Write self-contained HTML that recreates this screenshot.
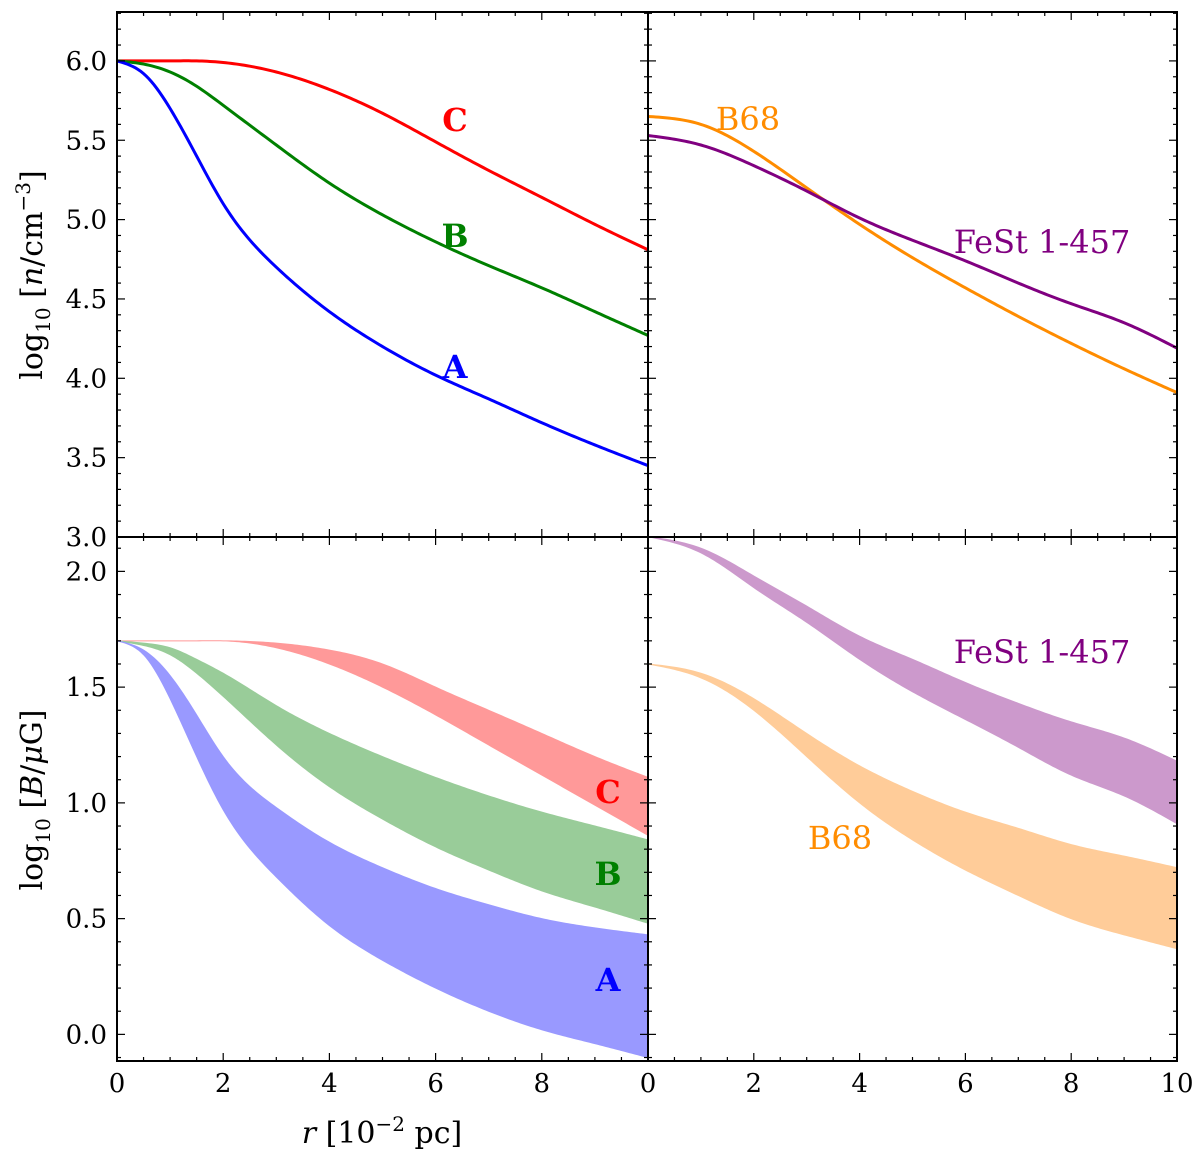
<!DOCTYPE html>
<html><head><meta charset="utf-8"><style>
body{margin:0;background:#fff}
svg text{font-family:"DejaVu Serif","Liberation Serif",serif}
</style></head><body>
<svg id="fig" width="1200" height="1159" viewBox="0 0 1200 1159" xmlns="http://www.w3.org/2000/svg"></svg>
<script>
const rGrid=[0,0.5,1,1.5,2,3,4,5,6,7,8,9,10];
const nC=[6.0,6.0,6.0,6.0,5.99,5.93,5.82,5.67,5.49,5.31,5.14,4.97,4.81];
const nB=[6.0,5.98,5.93,5.84,5.72,5.47,5.23,5.03,4.86,4.71,4.57,4.42,4.27];
const nA=[6.0,5.92,5.7,5.4,5.1,4.7,4.42,4.2,4.02,3.87,3.72,3.58,3.45];
const rGrid2=[0,1,2,3,4,5,6,7,8,9,10];
const nB68=[5.65,5.6,5.43,5.2,4.97,4.76,4.57,4.39,4.22,4.06,3.91];
const nFeSt=[5.53,5.47,5.34,5.18,5.01,4.87,4.74,4.6,4.47,4.35,4.19];
const bCup=[1.7,1.7,1.7,1.7,1.7,1.69,1.66,1.6,1.5,1.4,1.3,1.2,1.11];
const bClo=[1.7,1.7,1.7,1.7,1.7,1.67,1.6,1.5,1.38,1.25,1.12,0.99,0.86];
const bBup=[1.7,1.69,1.67,1.62,1.56,1.42,1.3,1.2,1.11,1.03,0.96,0.9,0.84];
const bBlo=[1.7,1.68,1.64,1.56,1.46,1.25,1.07,0.93,0.81,0.71,0.62,0.55,0.48];
const bAup=[1.7,1.66,1.55,1.38,1.2,0.98,0.83,0.72,0.63,0.56,0.5,0.46,0.43];
const bAlo=[1.7,1.64,1.45,1.2,0.97,0.68,0.47,0.32,0.2,0.1,0.02,-0.04,-0.1];
const bFup=[2.15,2.1,1.98,1.85,1.72,1.62,1.52,1.43,1.35,1.28,1.18];
const bFlo=[2.15,2.08,1.93,1.78,1.62,1.48,1.36,1.24,1.12,1.03,0.91];
const bB68up=[1.6,1.56,1.45,1.3,1.16,1.05,0.96,0.89,0.82,0.77,0.72];
const bB68lo=[1.6,1.54,1.4,1.2,1.0,0.84,0.71,0.6,0.5,0.43,0.37];
const xTicks=[0,2,4,6,8,10];
const xTickLabelsL=["0","2","4","6","8","0"];
const xTickLabelsR=["0","2","4","6","8","10"];
const yTicksTop=[3.0,3.5,4.0,4.5,5.0,5.5,6.0];
const yTicksBot=[0.0,0.5,1.0,1.5,2.0];

const NS="http://www.w3.org/2000/svg";
const svg=document.getElementById('fig');
function el(tag,attrs,parent){const e=document.createElementNS(NS,tag);for(const k in attrs)e.setAttribute(k,attrs[k]);(parent||svg).appendChild(e);return e;}
const X0L=117,X1L=648,X0R=648,X1R=1177;
const TOP={y0:12,y1:537,min:3.0,max:3.0+525/158.7};
const BOT={y0:537,y1:1061,min:-0.115,max:-0.115+524/231.5};
function sx(x0,x1){return v=>x0+(x1-x0)*v/10;}
function sy(p){return v=>p.y1-(p.y1-p.y0)*(v-p.min)/(p.max-p.min);}
// natural cubic spline
function interp(xs,ys){
 const n=xs.length,h=[],a=[],b=[],c=[],r=[];
 for(let i=0;i<n-1;i++)h.push(xs[i+1]-xs[i]);
 const M=new Array(n).fill(0);
 // tridiagonal for M[1..n-2]
 const sub=[],dia=[],sup=[],rhs=[];
 for(let i=1;i<n-1;i++){sub.push(h[i-1]);dia.push(2*(h[i-1]+h[i]));sup.push(h[i]);
  rhs.push(6*((ys[i+1]-ys[i])/h[i]-(ys[i]-ys[i-1])/h[i-1]));}
 const m=dia.length;
 for(let i=1;i<m;i++){const w=sub[i]/dia[i-1];dia[i]-=w*sup[i-1];rhs[i]-=w*rhs[i-1];}
 const sol=new Array(m);sol[m-1]=rhs[m-1]/dia[m-1];
 for(let i=m-2;i>=0;i--)sol[i]=(rhs[i]-sup[i]*sol[i+1])/dia[i];
 for(let i=0;i<m;i++)M[i+1]=sol[i];
 return x=>{let i=0;while(i<n-2&&x>xs[i+1])i++;const hi=h[i],A=(xs[i+1]-x)/hi,B=(x-xs[i])/hi;
  return A*ys[i]+B*ys[i+1]+((A*A*A-A)*M[i]+(B*B*B-B)*M[i+1])*hi*hi/6;};
}
function sample(xs,ys,fx,fy){const f=interp(xs,ys),P=[];for(let k=0;k<=200;k++){const r=k*0.05;P.push([fx(r).toFixed(2),fy(f(r)).toFixed(2)]);}return P;}
function line(xs,ys,fx,fy,color,name,clip){const P=sample(xs,ys,fx,fy);
 const p=el('path',{d:'M'+P.map(q=>q.join(',')).join(' L'),fill:'none',stroke:color,'stroke-width':3,'clip-path':`url(#${clip})`});
 
 }
function band(xs,up,lo,fx,fy,color,name,clip){const U=sample(xs,up,fx,fy),L=sample(xs,lo,fx,fy).reverse();
 const p=el('path',{d:'M'+U.concat(L).map(q=>q.join(',')).join(' L')+' Z',fill:color,stroke:color,'stroke-width':1,'clip-path':`url(#${clip})`});
 
 }
function label(x,y,t,color,bold,name){const e=el('text',{x:x,y:y,fill:color,'font-size':32,'text-anchor':'middle','font-weight':bold?'bold':'normal'});e.textContent=t;
 
 }

const defs=el('defs',{});
[['cTL',X0L,TOP.y0,X1L-X0L,TOP.y1-TOP.y0],['cTR',X0R,TOP.y0,X1R-X0R,TOP.y1-TOP.y0],['cBL',X0L,BOT.y0,X1L-X0L,BOT.y1-BOT.y0],['cBR',X0R,BOT.y0,X1R-X0R,BOT.y1-BOT.y0]].forEach(c=>{const cp=el('clipPath',{id:c[0]},defs);el('rect',{x:c[1],y:c[2],width:c[3],height:c[4]},cp);});

const fxL=sx(X0L,X1L),fxR=sx(X0R,X1R),fyT=sy(TOP),fyB=sy(BOT);
band(rGrid,bCup,bClo,fxL,fyB,'#ff9999','band-c','cBL');
band(rGrid,bBup,bBlo,fxL,fyB,'#99cc99','band-b','cBL');
band(rGrid,bAup,bAlo,fxL,fyB,'#9999ff','band-a','cBL');
band(rGrid2,bFup,bFlo,fxR,fyB,'#cc99cc','band-fest','cBR');
band(rGrid2,bB68up,bB68lo,fxR,fyB,'#ffcc99','band-b68','cBR');
line(rGrid,nC,fxL,fyT,'#ff0000','curve-c','cTL');
line(rGrid,nB,fxL,fyT,'#008000','curve-b','cTL');
line(rGrid,nA,fxL,fyT,'#0000ff','curve-a','cTL');
line(rGrid2,nB68,fxR,fyT,'#ff8c00','curve-b68','cTR');
line(rGrid2,nFeSt,fxR,fyT,'#800080','curve-fest','cTR');

label(455,131,'C','#ff0000',true,'label-c-top');
label(455,247,'B','#008000',true,'label-b-top');
label(455,378,'A','#0000ff',true,'label-a-top');
label(748,130,'B68','#ff8c00',false,'label-b68-top');
label(1042,253,'FeSt 1-457','#800080',false,'label-fest-top');
label(608,803,'C','#ff0000',true,'label-c-bottom');
label(608,885,'B','#008000',true,'label-b-bottom');
label(608,991,'A','#0000ff',true,'label-a-bottom');
label(840,849,'B68','#ff8c00',false,'label-b68-bottom');
label(1042,663,'FeSt 1-457','#800080',false,'label-fest-bottom');

function ticksPanel(x0,x1,p,yt,fy,showY){
 for(let v=0;v<=10.001;v+=0.5){const x=x0+(x1-x0)*v/10;const L=(Math.abs(v-Math.round(v/2)*2)<1e-6)?8:4;
  el('line',{x1:x,x2:x,y1:p.y1,y2:p.y1-L,stroke:'#000','stroke-width':1.2});el('line',{x1:x,x2:x,y1:p.y0,y2:p.y0+L,stroke:'#000','stroke-width':1.2});}
 for(let v=Math.ceil(p.min*10)/10;v<=p.max;v+=0.1){const y=fy(v);const maj=Math.abs(v*2-Math.round(v*2))<1e-6;const L=maj?8:4;
  el('line',{x1:x0,x2:x0+L,y1:y,y2:y,stroke:'#000','stroke-width':1.2});el('line',{x1:x1,x2:x1-L,y1:y,y2:y,stroke:'#000','stroke-width':1.2});}
 if(showY){yt.forEach(v=>{const t=el('text',{x:x0-10,y:fy(v)+9,'font-size':26,'text-anchor':'end'});t.textContent=v.toFixed(1);
  
  });}
}
ticksPanel(X0L,X1L,TOP,yTicksTop,fyT,true);
ticksPanel(X0R,X1R,TOP,yTicksTop,fyT,false);
ticksPanel(X0L,X1L,BOT,yTicksBot,fyB,true);
ticksPanel(X0R,X1R,BOT,yTicksBot,fyB,false);
xTicks.forEach((v,i)=>{let t=el('text',{x:fxL(v),y:1092,'font-size':26,'text-anchor':'middle'});t.textContent=xTickLabelsL[i];
 
 
 if(i>0){t=el('text',{x:fxR(v),y:1092,'font-size':26,'text-anchor':'middle'});t.textContent=xTickLabelsR[i];
 
 }});
const f=el('rect',{x:X0L,y:TOP.y0,width:X1R-X0L,height:BOT.y1-TOP.y0,fill:'none',stroke:'#000','stroke-width':2});


el('line',{x1:X0L,x2:X1R,y1:537,y2:537,stroke:'#000','stroke-width':2});
el('line',{x1:648,x2:648,y1:12,y2:1061,stroke:'#000','stroke-width':2});

let t=el('text',{x:0,y:0,'font-size':30,'text-anchor':'middle',transform:'translate(42,275) rotate(-90)'});
t.innerHTML='log<tspan font-size="20" dy="8">10</tspan><tspan dy="-8"> [</tspan><tspan font-style="italic">n</tspan>/cm<tspan font-size="20" dy="-12">−3</tspan><tspan dy="12">]</tspan>';


t=el('text',{x:0,y:0,'font-size':30,'text-anchor':'middle',transform:'translate(42,800) rotate(-90)'});
t.innerHTML='log<tspan font-size="20" dy="8">10</tspan><tspan dy="-8"> [</tspan><tspan font-style="italic">B</tspan>/<tspan font-style="italic">μ</tspan>G]';


t=el('text',{x:382,y:1143,'font-size':30,'text-anchor':'middle'});
t.innerHTML='<tspan font-style="italic">r</tspan> [10<tspan font-size="20" dy="-12">−2</tspan><tspan dy="12"> pc]</tspan>';


</script>
</body></html>
